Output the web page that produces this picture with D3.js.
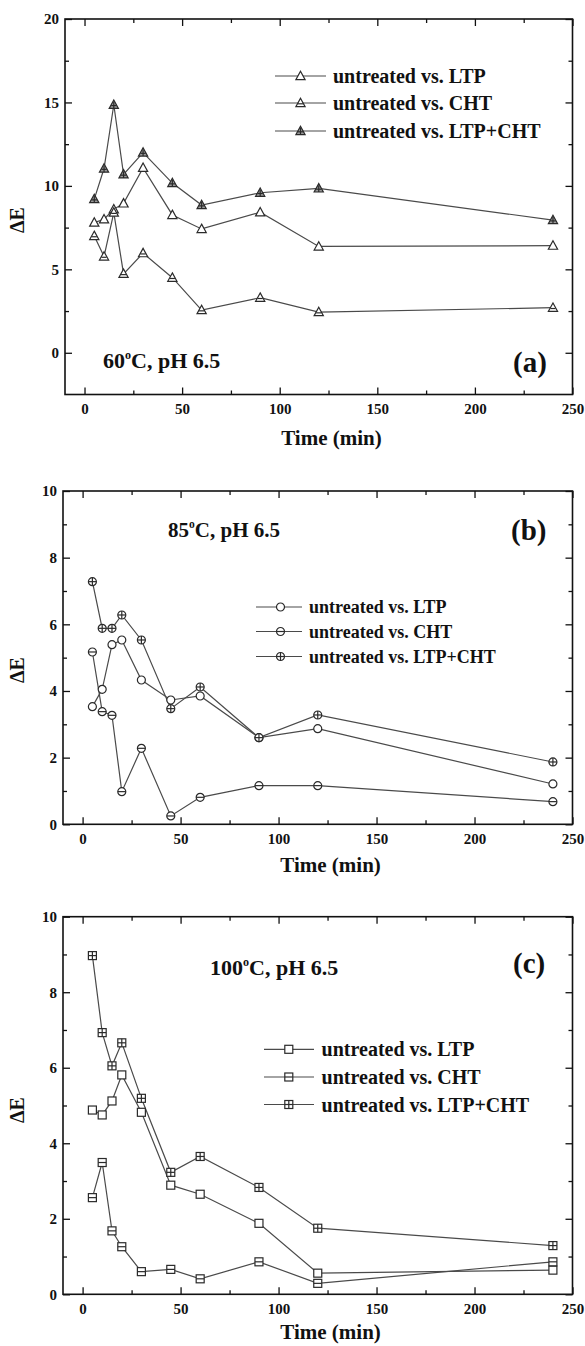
<!DOCTYPE html>
<html>
<head>
<meta charset="utf-8">
<script src="https://cdn.jsdelivr.net/npm/d3@7"></script>
<style>
body { margin: 0; background: #fff; }
svg text { font-family: "Liberation Serif", "Times New Roman", serif; font-weight: bold; fill: #111; }
.tick text { font-size: 15px; }
</style>
</head>
<body>
<svg id="fig" width="585" height="1346"></svg>
<script>
// sampling times (min), shared by all three panels
const times = [5, 10, 15, 20, 30, 45, 60, 90, 120, 240];
const seriesNames = ['untreated vs. LTP', 'untreated vs. CHT', 'untreated vs. LTP+CHT'];
const xTicks = [0, 50, 100, 150, 200, 250];
const xMinor = [25, 75, 125, 175, 225];

// (a) 60 C
const a_ltp = [7.8, 8.0, 8.6, 8.95, 11.08, 8.26, 7.42, 8.42, 6.37, 6.42];
const a_cht = [7.0, 5.77, 8.4, 4.73, 5.97, 4.5, 2.56, 3.3, 2.44, 2.7];
const a_mix = [9.21, 11.04, 14.86, 10.69, 12.0, 10.17, 8.85, 9.59, 9.85, 7.95];
const a_yTicks = [0, 5, 10, 15, 20];
const a_yMinor = [2.5, 7.5, 12.5, 17.5];

// (b) 85 C
const b_ltp = [3.53, 4.05, 5.39, 5.53, 4.33, 3.73, 3.85, 2.6, 2.87, 1.21];
const b_cht = [5.17, 3.38, 3.27, 0.98, 2.28, 0.25, 0.81, 1.16, 1.16, 0.68];
const b_mix = [7.28, 5.88, 5.88, 6.28, 5.53, 3.47, 4.12, 2.6, 3.28, 1.87];
const b_yTicks = [0, 2, 4, 6, 8, 10];
const b_yMinor = [1, 3, 5, 7, 9];

// (c) 100 C
const c_ltp = [4.88, 4.75, 5.12, 5.81, 4.82, 2.89, 2.65, 1.88, 0.56, 0.64];
const c_cht = [2.56, 3.49, 1.68, 1.26, 0.6, 0.66, 0.41, 0.86, 0.29, 0.86];
const c_mix = [8.97, 6.93, 6.05, 6.66, 5.19, 3.23, 3.65, 2.83, 1.75, 1.29];
const c_yTicks = [0, 2, 4, 6, 8, 10];
const c_yMinor = [1, 3, 5, 7, 9];

const panels = [
	{
		series: [a_ltp, a_cht, a_mix], yDomain: [-2.5, 20], yTicks: a_yTicks, yMinor: a_yMinor,
		shape: 'tri', box: { l: 65, r: 572.5, t: 19, b: 394.5 }, yLabelY: 220, xTitleDy: 43,
		legend: { x0: 275, x1: 326, mx: 300.5, tx: 333, ys: [76, 103, 131], fs: 20 },
		temp: '60', cond: { x: 103, y: 361, fs: 22 }, tag: '(a)', tagPos: { x: 513, y: 362, fs: 29 }
	},
	{
		series: [b_ltp, b_cht, b_mix], yDomain: [0, 10], yTicks: b_yTicks, yMinor: b_yMinor,
		shape: 'circ', box: { l: 63, r: 572.5, t: 491, b: 824.3 }, yLabelY: 670, xTitleDy: 41,
		legend: { x0: 256, x1: 302, mx: 280.5, tx: 309, ys: [607, 631.5, 656.5], fs: 18 },
		temp: '85', cond: { x: 168, y: 530, fs: 21 }, tag: '(b)', tagPos: { x: 511, y: 530, fs: 29 }
	},
	{
		series: [c_ltp, c_cht, c_mix], yDomain: [0, 10], yTicks: c_yTicks, yMinor: c_yMinor,
		shape: 'sq', box: { l: 63, r: 572.5, t: 916.7, b: 1294.3 }, yLabelY: 1110, xTitleDy: 38,
		legend: { x0: 264, x1: 314, mx: 288.8, tx: 321.6, ys: [1049.3, 1077, 1104.5], fs: 20 },
		temp: '100', cond: { x: 210, y: 968, fs: 22 }, tag: '(c)', tagPos: { x: 513, y: 963, fs: 29 }
	}
];

const svg = d3.select('#fig');
const lineColor = '#4a4a4a';
const markColor = '#2a2a2a';

function drawMarker (g, shape, variant, cx, cy) {
	const m = g.append('g').attr('transform', `translate(${cx},${cy})`)
		.attr('stroke', markColor).attr('stroke-width', 1.2).attr('fill', '#fff');
	let hw = 4, top = -4, bot = 4;
	if (shape === 'tri') {
		hw = 4.6; top = -4.8; bot = 3.6;
		m.append('path').attr('d', `M0,${top}L${hw},${bot}L${-hw},${bot}Z`);
	} else if (shape === 'circ') {
		m.append('circle').attr('r', 4);
	} else {
		m.append('rect').attr('x', -4).attr('y', -4).attr('width', 8).attr('height', 8);
	}
	if (variant >= 1) {
		const yy = shape === 'tri' ? 0.8 : 0;
		const ww = shape === 'tri' ? 2.6 : hw;
		m.append('line').attr('x1', -ww).attr('x2', ww).attr('y1', yy).attr('y2', yy);
	}
	if (variant === 2) {
		m.append('line').attr('x1', 0).attr('x2', 0).attr('y1', shape === 'tri' ? -3 : top).attr('y2', bot);
		if (shape === 'tri') m.select('path').attr('fill', '#9a9a9a');
	}
}

panels.forEach(p => {
	const b = p.box;
	const x = d3.scaleLinear().domain([-10, 250]).range([b.l, b.r]);
	const y = d3.scaleLinear().domain(p.yDomain).range([b.b, b.t]);
	const g = svg.append('g');

	const strip = sel => sel.call(s => s.select('.domain').remove()).style('color', '#111');

	// major + minor ticks on all four sides, pointing inward
	g.append('g').attr('transform', `translate(0,${b.b})`)
		.call(d3.axisBottom(x).tickValues(xTicks).tickSize(-7).tickPadding(9)).call(strip);
	g.append('g').attr('transform', `translate(0,${b.b})`)
		.call(d3.axisBottom(x).tickValues(xMinor).tickSize(-4).tickFormat('')).call(strip);
	g.append('g').attr('transform', `translate(0,${b.t})`)
		.call(d3.axisTop(x).tickValues(xTicks).tickSize(-7).tickFormat('')).call(strip);
	g.append('g').attr('transform', `translate(0,${b.t})`)
		.call(d3.axisTop(x).tickValues(xMinor).tickSize(-4).tickFormat('')).call(strip);
	g.append('g').attr('transform', `translate(${b.l},0)`)
		.call(d3.axisLeft(y).tickValues(p.yTicks).tickSize(-7).tickPadding(6)).call(strip);
	g.append('g').attr('transform', `translate(${b.l},0)`)
		.call(d3.axisLeft(y).tickValues(p.yMinor).tickSize(-4).tickFormat('')).call(strip);
	g.append('g').attr('transform', `translate(${b.r},0)`)
		.call(d3.axisRight(y).tickValues(p.yTicks).tickSize(-7).tickFormat('')).call(strip);
	g.append('g').attr('transform', `translate(${b.r},0)`)
		.call(d3.axisRight(y).tickValues(p.yMinor).tickSize(-4).tickFormat('')).call(strip);
	g.selectAll('.tick line').attr('stroke-width', 1.3);

	g.append('rect')
		.attr('x', b.l).attr('y', b.t)
		.attr('width', b.r - b.l).attr('height', b.b - b.t)
		.attr('fill', 'none').attr('stroke', '#111').attr('stroke-width', 1.6);

	// axis titles
	g.append('text')
		.attr('x', (x(0) + x(250)) / 2 + 3).attr('y', b.b + p.xTitleDy)
		.attr('dominant-baseline', 'central').attr('text-anchor', 'middle')
		.style('font-size', '21px')
		.text('Time (min)');
	g.append('text')
		.attr('transform', `translate(17,${p.yLabelY}) rotate(-90)`)
		.attr('dominant-baseline', 'central').attr('text-anchor', 'middle')
		.style('font-size', '20px')
		.text('ΔE');

	// data
	const line = d3.line().x((d, i) => x(times[i])).y(d => y(d));
	p.series.forEach(s => {
		g.append('path').datum(s)
			.attr('d', line)
			.attr('fill', 'none').attr('stroke', lineColor).attr('stroke-width', 1.2);
	});
	p.series.forEach((s, k) => {
		s.forEach((v, i) => drawMarker(g, p.shape, k, x(times[i]), y(v)));
	});

	// legend
	const L = p.legend;
	seriesNames.forEach((name, k) => {
		const ly = L.ys[k];
		g.append('line')
			.attr('x1', L.x0).attr('x2', L.x1).attr('y1', ly).attr('y2', ly)
			.attr('stroke', lineColor).attr('stroke-width', 1.2);
		drawMarker(g, p.shape, k, L.mx, ly);
		g.append('text')
			.attr('x', L.tx).attr('y', ly)
			.attr('dominant-baseline', 'central')
			.style('font-size', L.fs + 'px')
			.text(name);
	});

	// condition label and panel tag
	const ct = g.append('text')
		.attr('x', p.cond.x).attr('y', p.cond.y + p.cond.fs * 0.34)
		.style('font-size', p.cond.fs + 'px');
	ct.append('tspan').text(p.temp);
	ct.append('tspan').attr('dy', -p.cond.fs * 0.42).style('font-size', (p.cond.fs * 0.55) + 'px').text('o');
	ct.append('tspan').attr('dy', p.cond.fs * 0.42).text('C, pH 6.5');

	g.append('text')
		.attr('x', p.tagPos.x).attr('y', p.tagPos.y)
		.attr('dominant-baseline', 'central')
		.style('font-size', p.tagPos.fs + 'px')
		.text(p.tag);
});
</script>
</body>
</html>
